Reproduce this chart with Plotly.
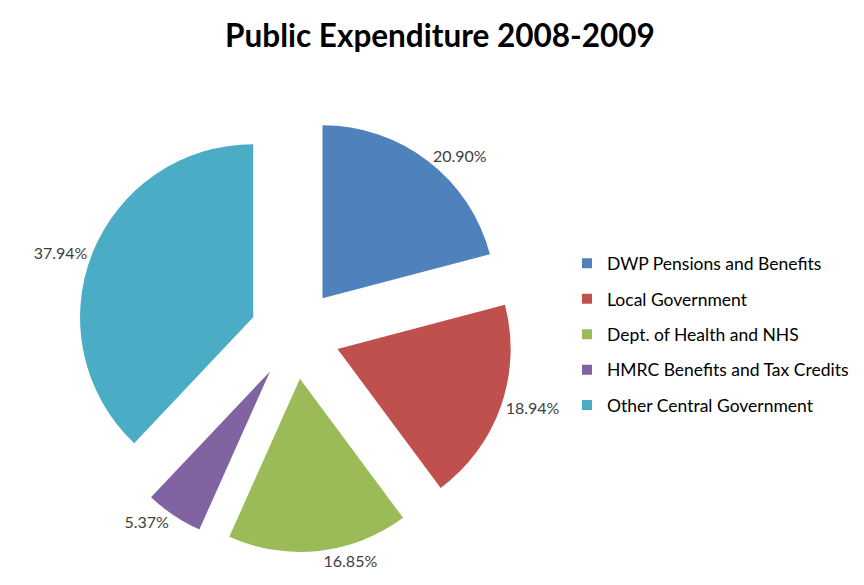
import plotly.graph_objects as go

categories = ["DWP Pensions and Benefits", "Local Government", "Dept. of Health and NHS",
              "HMRC Benefits and Tax Credits", "Other Central Government"]
values = [20.90, 18.94, 16.85, 5.37, 37.94]
colors = ["#4F81BD", "#C0504D", "#9BBB59", "#8064A2", "#4BACC6"]

fig = go.Figure()
fig.add_trace(go.Pie(
    labels=categories, values=values, sort=False, direction="clockwise", rotation=0,
    pull=[0.26] * len(values),
    marker=dict(colors=colors, line=dict(width=0)),
    texttemplate="%{value:.2f}%", textposition="outside",
    textfont=dict(family="Lato", size=16, color="#404040"),
    domain=dict(x=[0.0797, 0.5847], y=[0.0697, 0.8157]),
    showlegend=False, hoverinfo="label+value",
))
for i, (c, col) in enumerate(zip(categories, colors)):
    fig.add_trace(go.Scatter(
        x=[None], y=[None], mode="markers", name=c,
        marker=dict(symbol="square", size=10, color=col),
        legendgroup=f"g{i}", showlegend=True,
    ))

fig.update_layout(
    width=864, height=585,
    margin=dict(l=0, r=0, t=0, b=0, autoexpand=False),
    paper_bgcolor="white", plot_bgcolor="white",
    title=dict(text="<b>Public Expenditure 2008-2009</b>", x=0.5, xanchor="center",
               y=0.952, yanchor="middle",
               font=dict(family="Lato", size=31.5, color="#000000")),
    xaxis=dict(visible=False), yaxis=dict(visible=False),
    legend=dict(x=0.647, y=0.442, xanchor="left", yanchor="middle",
                font=dict(family="Lato", size=17.5, color="#000000"),
                tracegroupgap=9.7, bgcolor="rgba(0,0,0,0)"),
)
fig.write_html("out.html")
